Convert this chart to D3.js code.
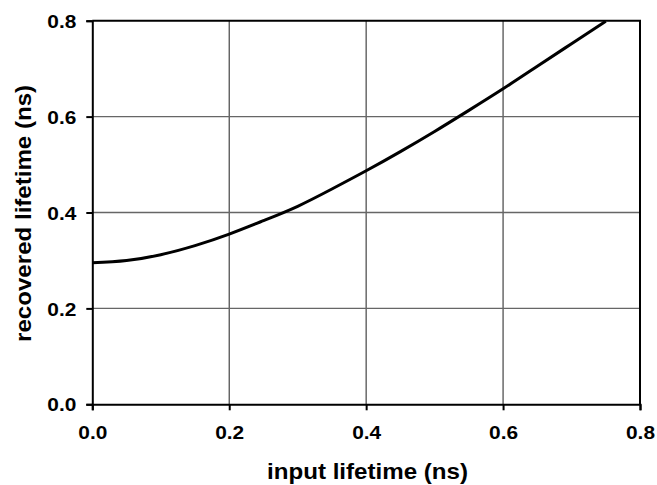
<!DOCTYPE html>
<html>
<head>
<meta charset="utf-8">
<script src="https://cdn.jsdelivr.net/npm/d3@7"></script>
<style>
  body { margin: 0; background: #fff; }
  svg { display: block; font-family: "Liberation Sans", Arial, sans-serif; }
</style>
</head>
<body>
<svg width="657" height="485"></svg>
<script>
// values
const inputLifetime = [0, 0.05, 0.1, 0.15, 0.2, 0.25, 0.3, 0.35, 0.4, 0.45, 0.5, 0.55, 0.6, 0.65, 0.7, 0.75];
const recoveredLifetime = [0.295, 0.300, 0.312, 0.331, 0.355, 0.383, 0.413, 0.449, 0.487, 0.527, 0.569, 0.613, 0.658, 0.705, 0.752, 0.799];
const xTicks = [0, 0.2, 0.4, 0.6, 0.8];
const yTicks = [0, 0.2, 0.4, 0.6, 0.8];

const svg = d3.select('svg');
const plotLeft = 92.3, plotRight = 640, plotTop = 20.7, plotBottom = 404.3;

const x = d3.scaleLinear().domain([0, 0.8]).range([plotLeft, plotRight]);
const y = d3.scaleLinear().domain([0, 0.8]).range([plotBottom, plotTop]);

// grid lines
svg.append('g').selectAll('line')
    .data(xTicks.slice(1, -1))
    .enter().append('line')
    .attr('x1', d => x(d)).attr('x2', d => x(d))
    .attr('y1', plotTop).attr('y2', plotBottom)
    .attr('stroke', '#444').attr('stroke-width', 1.2);

svg.append('g').selectAll('line')
    .data(yTicks.slice(1, -1))
    .enter().append('line')
    .attr('x1', plotLeft).attr('x2', plotRight)
    .attr('y1', d => y(d)).attr('y2', d => y(d))
    .attr('stroke', '#666').attr('stroke-width', 1.3);

// top and right border
svg.append('path')
    .attr('d', `M${plotLeft},${plotTop}H${plotRight}V${plotBottom}`)
    .attr('fill', 'none').attr('stroke', '#000').attr('stroke-width', 2);

// axes
const xAxis = svg.append('g')
    .attr('transform', `translate(0,${plotBottom})`)
    .call(d3.axisBottom(x).tickValues(xTicks).tickFormat(d3.format('.1f')).tickSize(6).tickPadding(16));
const yAxis = svg.append('g')
    .attr('transform', `translate(${plotLeft},0)`)
    .call(d3.axisLeft(y).tickValues(yTicks).tickFormat(d3.format('.1f')).tickSize(6).tickPadding(10));

[xAxis, yAxis].forEach(a => {
    a.select('.domain').attr('stroke-width', 2);
    a.selectAll('.tick line').attr('stroke-width', 2);
    a.selectAll('.tick text')
        .attr('font-size', 18.5).attr('font-weight', 'bold')
        .attr('font-family', '"Liberation Sans", Arial, sans-serif').attr('fill', '#000')
        .attr('textLength', 29).attr('lengthAdjust', 'spacingAndGlyphs');
});
yAxis.selectAll('.tick text').attr('dy', '0.36em');

// curve
const line = d3.line()
    .x((d, i) => x(inputLifetime[i]))
    .y(d => y(d))
    .curve(d3.curveNatural);

svg.append('path')
    .datum(recoveredLifetime)
    .attr('d', line)
    .attr('fill', 'none')
    .attr('stroke', '#000')
    .attr('stroke-width', 3);

// axis titles
svg.append('text')
    .attr('x', 367.5).attr('y', 479)
    .attr('text-anchor', 'middle')
    .attr('font-size', 22).attr('font-weight', 'bold')
    .attr('textLength', 201).attr('lengthAdjust', 'spacingAndGlyphs')
    .text('input lifetime (ns)');

svg.append('text')
    .attr('transform', `translate(31,213.4) rotate(-90)`)
    .attr('text-anchor', 'middle')
    .attr('font-size', 22).attr('font-weight', 'bold')
    .attr('textLength', 257).attr('lengthAdjust', 'spacingAndGlyphs')
    .text('recovered lifetime (ns)');
</script>
</body>
</html>
